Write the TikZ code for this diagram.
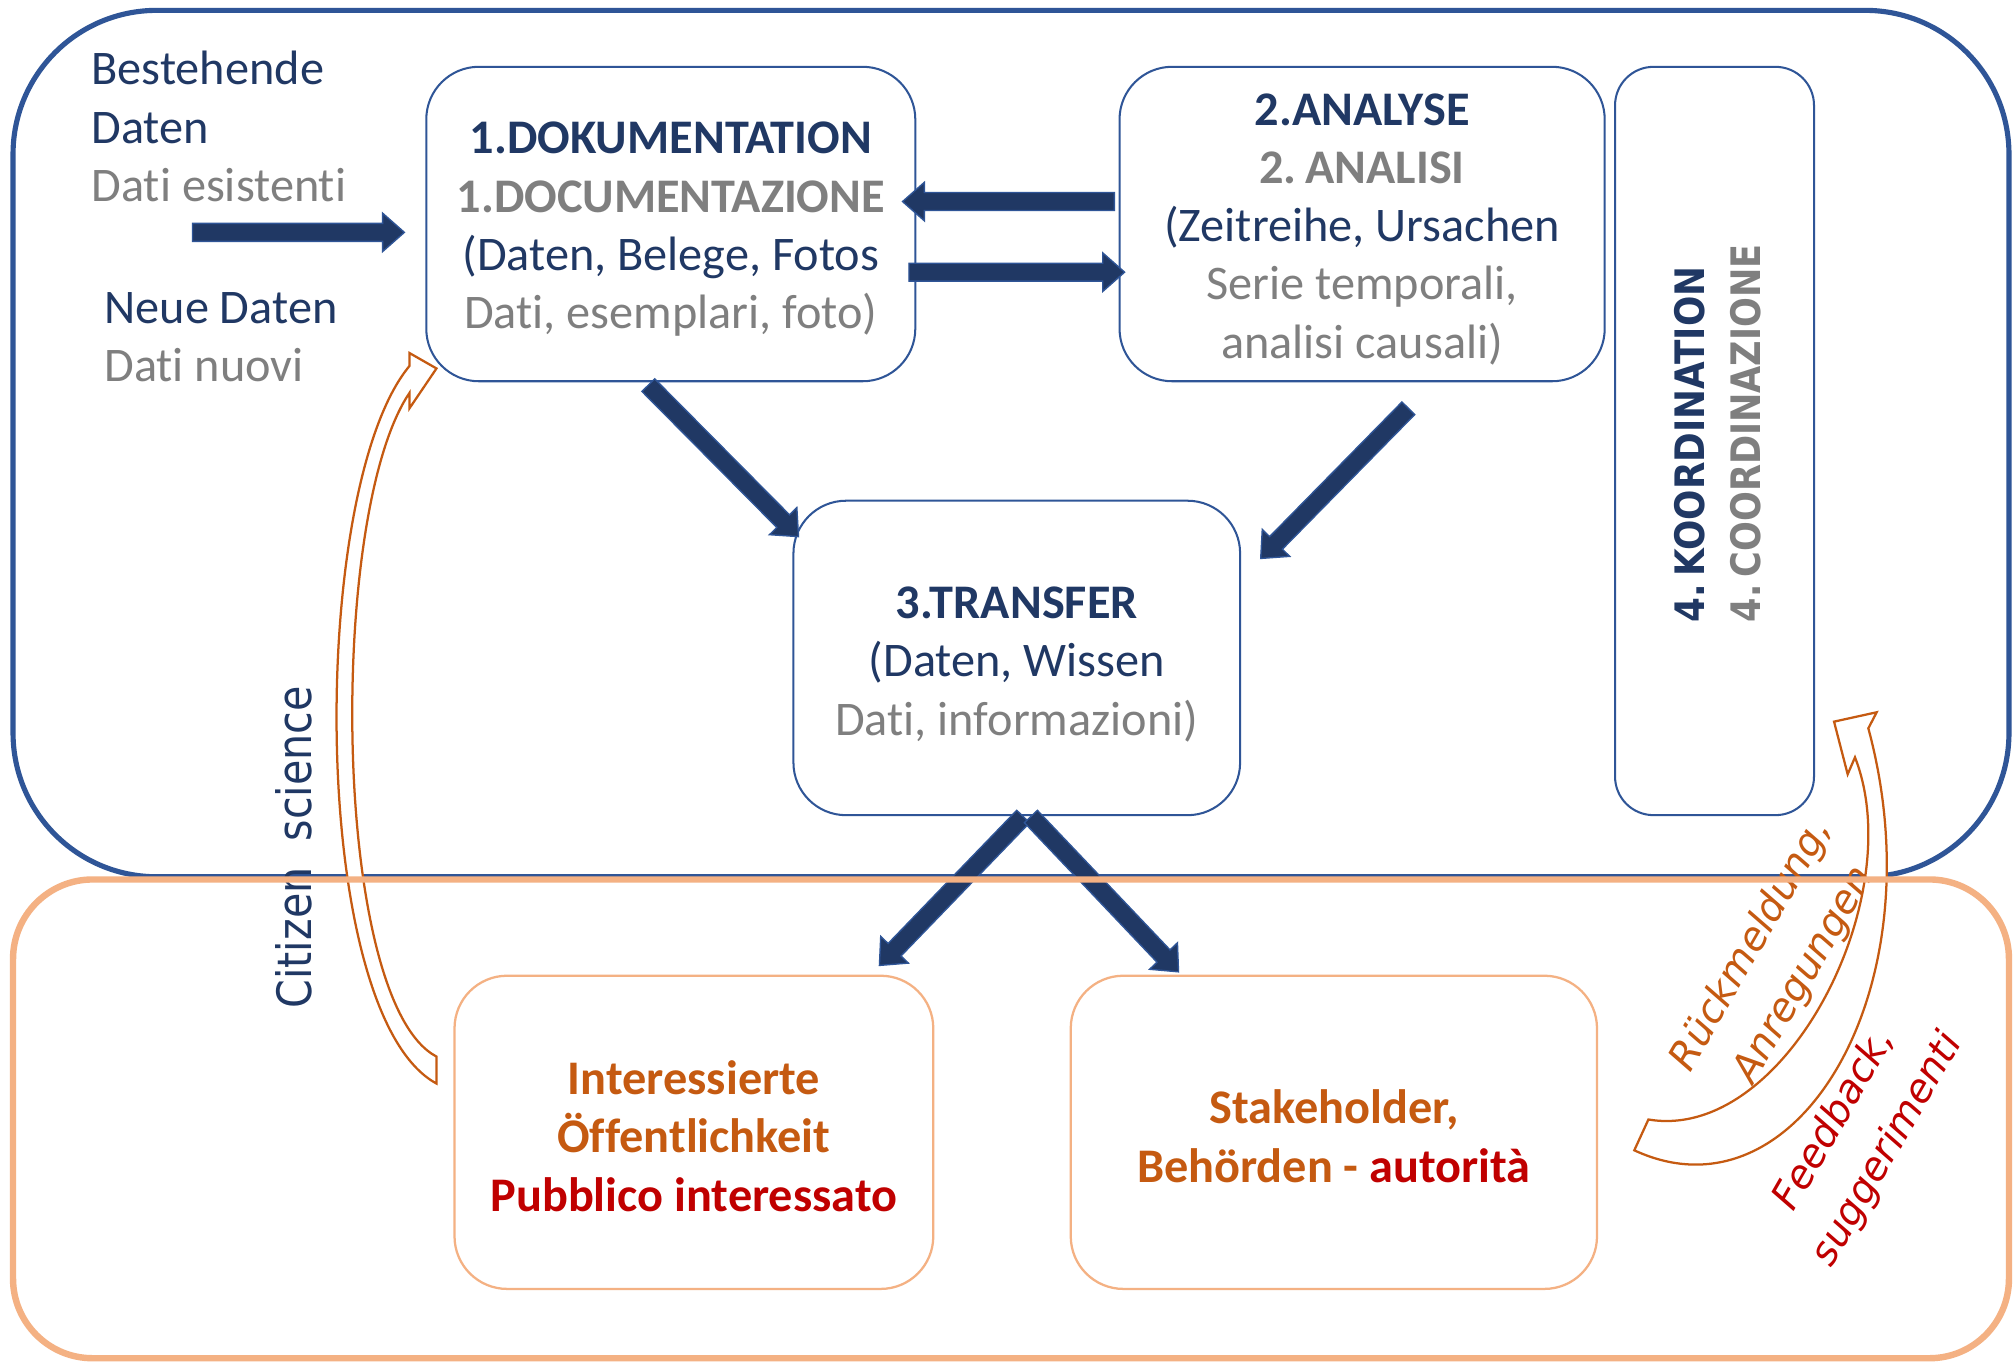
\documentclass[tikz,border=0pt]{standalone}
\usepackage{fontspec}
\setmainfont{Carlito}[Ligatures=NoCommon]
\newfontfamily\dejavu{DejaVu Sans}
\usetikzlibrary{calc}
\definecolor{navy}{HTML}{203864}
\definecolor{boxblue}{HTML}{2F5597}
\definecolor{grayt}{HTML}{7F7F7F}
\definecolor{orangeT}{HTML}{C55A11}
\definecolor{redT}{HTML}{C00000}
\definecolor{orangeL}{HTML}{F4B183}
\newcommand\bodyfont{\fontsize{21.4}{25.8}\selectfont}
\tikzset{
  bigblue/.style={draw=boxblue, line width=0.08cm, rounded corners=2.24cm, inner sep=0pt},
  bigorange/.style={draw=orangeL, line width=0.1cm, rounded corners=1.24cm, inner sep=0pt},
  box/.style={draw=boxblue, line width=0.9pt, rounded corners=0.82cm, inner sep=0pt},
  obox/.style={draw=orangeL, line width=1pt, rounded corners=0.82cm, inner sep=0pt},
  btext/.style={inner sep=0pt, align=center, font=\bodyfont},
  otext/.style={inner sep=0pt, align=center, font=\bodyfont\bfseries},
  lbl/.style={inner sep=0pt, align=left, font=\bodyfont},
  barrow/.style={fill=navy, draw=boxblue, line width=0.6pt},
  carrow/.style={fill=white, draw=orangeT, line width=1pt},
  slant/.style={rotate=60, inner sep=0pt, align=center, font=\dejavu\itshape\fontsize{17.5}{27}\selectfont},
}
\newcommand\blockarrow[2]{%
  \coordinate (tmph) at ($(#2)!0.34cm!(#1)$);
  \draw[barrow] ($(#1)!0.14cm!90:(#2)$) -- ($(tmph)!0.14cm!90:(#2)$) -- ($(tmph)!0.3cm!90:(#2)$) -- (#2)
    -- ($(tmph)!0.3cm!-90:(#2)$) -- ($(tmph)!0.14cm!-90:(#2)$) -- ($(#1)!0.14cm!-90:(#2)$) -- cycle;}
\begin{document}
\begin{tikzpicture}[x=0.02cm, y=-0.02cm]
\useasboundingbox[fill=white] (0,0) rectangle (1568,1061);
% outer blue frame
\node[bigblue, minimum width=31.1cm, minimum height=13.5cm] (outer) at (787.5,345.5) {};
% boxes
\node[box, minimum width=7.62cm, minimum height=4.9cm] (doc) at (522.5,174.5) {};
\node[box, minimum width=7.56cm, minimum height=4.9cm] (ana) at (1061,174.5) {};
\node[box, rounded corners=0.6cm, minimum width=3.1cm, minimum height=11.66cm] (koordbox) at (1335.5,343.5) {};
\node[box, minimum width=6.96cm, minimum height=4.9cm] (trans) at (792,512.5) {};
\node[obox, minimum width=7.46cm, minimum height=4.88cm] (pub) at (540.5,882) {};
\node[obox, minimum width=8.2cm, minimum height=4.88cm] (stake) at (1039,882) {};
% box texts
\node[btext] (doct) at ($(doc.center)+(0,4)$)
  {{\bfseries\color{navy}1.DOKUMENTATION}\\{\bfseries\color{grayt}1.DOCUMENTAZIONE}\\{\color{navy}(Daten, Belege, Fotos}\\{\color{grayt}Dati, esemplari, foto)}};
\node[btext] (anat) at ($(ana.center)+(0,4)$)
  {{\bfseries\color{navy}2.ANALYSE}\\{\bfseries\color{grayt}2.\hspace{0.18em}ANALISI}\\{\color{navy}(Zeitreihe, Ursachen}\\{\color{grayt}Serie temporali,}\\{\color{grayt}analisi causali)}};
\node[btext] (transt) at ($(trans.center)+(0,5)$)
  {{\bfseries\color{navy}3.TRANSFER}\\{\color{navy}(Daten, Wissen}\\{\color{grayt}Dati, informazioni)}};
\node[otext] (pubt) at ($(pub.center)+(0,3)$)
  {{\color{orangeT}Interessierte}\\{\color{orangeT}Öffentlichkeit}\\{\color{redT}Pubblico interessato}};
\node[otext] (staket) at ($(stake.center)+(0,3)$)
  {{\color{orangeT}Stakeholder,}\\{\color{orangeT}Behörden - }{\color{redT}autorità}};
% left labels
\node[lbl, anchor=west] (best) at (71,98.5)
  {{\color{navy}Bestehende}\\{\color{navy}Daten}\\{\color{grayt}Dati esistenti}};
\node[lbl, anchor=west] (neue) at (81,262.5)
  {{\color{navy}Neue Daten}\\{\color{grayt}Dati nuovi}};
% rotated labels
\node[rotate=90, anchor=west, align=left, inner sep=0pt, font=\dejavu\bfseries\fontsize{18}{25}\selectfont] (koord) at (1338,485)
  {\scalebox{0.88}[1]{\color{navy}4.\hspace{0.2em}KOORDINATION}\\\scalebox{0.865}[1]{\color{grayt}4.\hspace{0.2em}COORDINAZIONE}};
% curved arrows
\draw[carrow] (340,844) .. controls (240,790) and (240,380) .. (319,285) -- (319,275) -- (340,287) -- (319,318) -- (319,306)
  .. controls (255,400) and (258,780) .. (340,823) -- cycle;
\draw[carrow] (1273,896) .. controls (1400,955) and (1510,770) .. (1455.3,567.3) -- (1461.8,554.8) -- (1428.6,562.1)
  -- (1439.2,603.1) -- (1444.9,589.9) .. controls (1488,700) and (1390,890) .. (1284,872) -- cycle;
\node[rotate=90, inner sep=0pt, text=navy, font=\dejavu\fontsize{21}{25}\selectfont] (cs) at (229,660)
  {\scalebox{0.87}[1]{Citizen\ \ science}};
\node[slant, text=orangeT] (rueck) at (1385,748) {Rückmeldung,\\Anregungen};
\node[slant, text=redT] (feed) at (1450,884) {Feedback,\\suggerimenti};
% block arrows
\coordinate (a0s) at (150,181); \coordinate (a0e) at (315,181);
\coordinate (a1s) at (868,157); \coordinate (a1e) at (703,157);
\coordinate (a2s) at (708,212); \coordinate (a2e) at (876,212);
\coordinate (a3s) at (505,300); \coordinate (a3e) at (622,418);
\coordinate (a4s) at (1097,318); \coordinate (a4e) at (982,435);
\coordinate (a5s) at (797,636); \coordinate (a5e) at (685,752);
\coordinate (a6s) at (803,636); \coordinate (a6e) at (918,757);
\blockarrow{a0s}{a0e}
\blockarrow{a1s}{a1e}
\blockarrow{a2s}{a2e}
\blockarrow{a3s}{a3e}
\blockarrow{a4s}{a4e}
\blockarrow{a5s}{a5e}
\blockarrow{a6s}{a6e}
% lower orange frame
\node[bigorange, minimum width=31.1cm, minimum height=7.46cm] (lower) at (787.5,871.5) {};
\end{tikzpicture}
\end{document}
